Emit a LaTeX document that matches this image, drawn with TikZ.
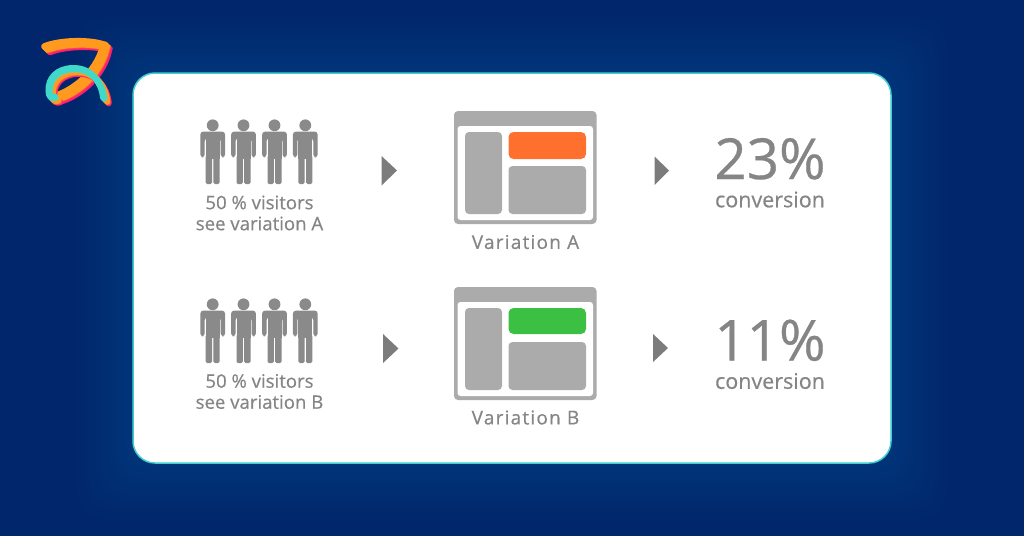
\documentclass[tikz,border=0pt]{standalone}
\usepackage{fontspec}
\setmainfont{Open Sans}
\newfontfamily\medfont[FakeBold=0.5]{Open Sans}
\newfontfamily\spacedfont[FakeBold=0.5,LetterSpace=6.5]{Open Sans}
\definecolor{navy}{HTML}{01266B}
\definecolor{glow}{HTML}{2F78C0}
\definecolor{tealb}{HTML}{3FCFD0}
\definecolor{gfig}{HTML}{8A8A8A}
\definecolor{gpan}{HTML}{ABABAB}
\definecolor{gtxt}{HTML}{858585}
\definecolor{orangebtn}{HTML}{FF702E}
\definecolor{greenbtn}{HTML}{3CC043}
\definecolor{Lp}{HTML}{FF1C74}
\definecolor{Lr}{HTML}{FF4A4A}
\definecolor{Lo}{HTML}{FF9A1E}
\definecolor{Ly}{HTML}{C9B060}
\definecolor{Lt}{HTML}{40D8C8}
\tikzset{
  x=1pt,y=-1pt,
  label14/.style={font=\medfont\fontsize{18.6}{21}\selectfont,text=gtxt,align=center,inner sep=0pt},
  varlabel/.style={font=\spacedfont\fontsize{19}{22}\selectfont,text=gtxt,inner sep=0pt},
  bignum/.style={font=\medfont\fontsize{56.5}{60}\selectfont,text=gtxt,inner sep=0pt,text depth=0pt,anchor=base},
  convlabel/.style={font=\medfont\fontsize{21.5}{25}\selectfont,text=gtxt,inner sep=0pt},
  tri/.style={fill=#1,draw=none},
  person/.pic={
    \fill[gfig] (0,0) circle (5.9);
    \fill[gfig,rounded corners=3] (-12.4,32) -- (-12.4,6.3) -- (12.4,6.3) -- (12.4,32) -- (8,32) -- (8,13) -- (-8,13) -- (-8,32) -- cycle;
    \fill[gfig] (-7,10) rectangle (7,34);
    \fill[gfig,rounded corners=1.5] (-7,30) -- (-7,58.7) -- (-0.7,58.7) -- (-0.7,30) -- cycle;
    \fill[gfig,rounded corners=1.5] (7,30) -- (7,58.7) -- (0.7,58.7) -- (0.7,30) -- cycle;
  },
  webpage/.pic={
    \fill[gpan,rounded corners=4] (0,0) rectangle (142.5,113);
    \fill[white,rounded corners=3] (3.5,15) rectangle (139,109);
    \fill[gpan,rounded corners=4] (11,21) rectangle (48,103);
    \fill[gpan,rounded corners=4] (54.5,55) rectangle (132,103);
  }
}
\begin{document}
\begin{tikzpicture}
\useasboundingbox (0,0) rectangle (1024,536);
\fill[navy] (0,0) rectangle (1024,536);
\begin{scope}
\clip (0,0) rectangle (1024,536);
\foreach \g in {56,52,...,0}{
  \fill[glow,opacity=0.015,rounded corners=30] (133-\g,73-\g) rectangle (891+\g,463+\g);
}
\end{scope}
% logo
\foreach \s/\c in {3/Lp,2.2/Lp,1.4/Lr,0.6/Lo,-0.2/Lo,-1/Lo,-1.8/Lo,-2.6/Lo}{
  \draw[\c,line width=6.5,line cap=round,shift={(\s,\s)}]
    (47,49) .. controls (62,43) and (90,42) .. (106,47)
    .. controls (103,62) and (93,76) .. (82,85)
    .. controls (72,93) and (62,98) .. (54,99);
}
\foreach \s/\c in {3.2/Lp,2.4/Lr,1.6/Lo,0.8/Lo,0/Lo,-0.8/Ly,-1.6/Lt,-2.4/Lt}{
  \draw[\c,line width=6.2,line cap=round,shift={(\s,\s)}]
    (105.5,100) .. controls (104,84) and (93,70) .. (75,70.5)
    .. controls (59,71) and (50.5,81) .. (51,93)
    .. controls (51,99) and (53,100) .. (57,99);
}
% card
\node[draw=tealb,line width=1.5pt,fill=white,rounded corners=22,minimum width=758,minimum height=390,inner sep=0,outer sep=0] (card) at (512,268) {};
% row A
\foreach \x in {212.7,243.5,274.5,305.3}{ \pic at (\x,125.3) {person}; }
\node[label14] (visa) at (259.5,213) {50 \% visitors\\see variation A};
\fill[tri=gfig!90!black] (381.5,156) -- (397,170.5) -- (381.5,185.5) -- cycle;
\pic at (454,111) {webpage};
\fill[orangebtn,rounded corners=5] (508.5,132) rectangle (586,159);
\node[varlabel] (varA) at (525.5,242) {Variation A};
\fill[tri=gfig!90!black] (654.5,156.5) -- (669,170.5) -- (654.5,185) -- cycle;
\node[bignum] (pa) at (770,179) {23\%};
\node[convlabel] (ca) at (770,199.5) {conversion};
% row B
\foreach \x in {212.7,243.5,274.5,305.3}{ \pic at (\x,304.3) {person}; }
\node[label14] (visb) at (259.5,391.5) {50 \% visitors\\see variation B};
\fill[tri=gfig!90!black] (383,334) -- (398.5,348.5) -- (383,363) -- cycle;
\pic at (454,287) {webpage};
\fill[greenbtn,rounded corners=5] (508.5,308) rectangle (586,334);
\node[varlabel] (varB) at (525.5,417.5) {Variation B};
\fill[tri=gfig!90!black] (653,334) -- (668,348) -- (653,362) -- cycle;
\node[bignum] (pb) at (770,360.5) {11\%};
\node[convlabel] (cb) at (770,381) {conversion};
\end{tikzpicture}
\end{document}
